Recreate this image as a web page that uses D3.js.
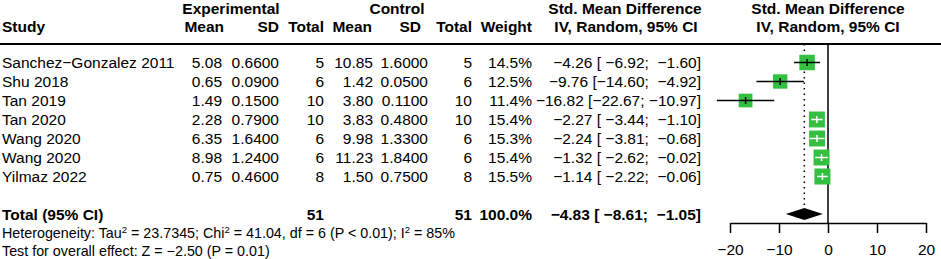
<!DOCTYPE html>
<html>
<head>
<meta charset="utf-8">
<script src="https://cdn.jsdelivr.net/npm/d3@7"></script>
<style>
  body { margin: 0; background: #fff; }
  svg { display: block; font-family: "Liberation Sans", Arial, Helvetica, sans-serif; }
</style>
</head>
<body>
<svg id="forest" width="941" height="259"></svg>
<script>
// ---- data ----
const studies = ["Sanchez\u2212Gonzalez 2011", "Shu 2018", "Tan 2019", "Tan 2020", "Wang 2020", "Wang 2020", "Yilmaz 2022"];
const expMean = [5.08, 0.65, 1.49, 2.28, 6.35, 8.98, 0.75];
const expSD = [0.66, 0.09, 0.15, 0.79, 1.64, 1.24, 0.46];
const expTotal = [5, 6, 10, 10, 6, 6, 8];
const ctrlMean = [10.85, 1.42, 3.80, 3.83, 9.98, 11.23, 1.50];
const ctrlSD = [1.60, 0.05, 0.11, 0.48, 1.33, 1.84, 0.75];
const ctrlTotal = [5, 6, 10, 10, 6, 6, 8];
const weights = [14.5, 12.5, 11.4, 15.4, 15.3, 15.4, 15.5];
const smd = [-4.26, -9.76, -16.82, -2.27, -2.24, -1.32, -1.14];
const ciLower = [-6.92, -14.60, -22.67, -3.44, -3.81, -2.62, -2.22];
const ciUpper = [-1.60, -4.92, -10.97, -1.10, -0.68, -0.02, -0.06];

const pooledSmd = -4.83;
const pooledLower = -8.61;
const pooledUpper = -1.05;
const totalExp = 51;
const totalCtrl = 51;
const totalWeight = 100.0;

const axisTicks = [-20, -10, 0, 10, 20];
const heterogeneity = { tau2: "23.7345", chi2: "41.04", df: 6, p: "P < 0.01", i2: "85%" };
const overallTest = "Test for overall effect: Z = \u22122.50 (P = 0.01)";

// ---- layout ----
const fontSize = 15.5;
const smallSize = 14.3;
const green = "#33bf40";
const svg = d3.select("#forest");

const x = d3.scaleLinear().domain([-20, 20]).range([730, 926]);
const y = d3.scaleLinear().domain([0, studies.length - 1]).range([62.5, 176.5]);
const side = d3.scaleSqrt().domain([0, 15.5]).range([0, 16]);

const f2 = d3.format(".2f");
const f4 = d3.format(".4f");
const f1 = d3.format(".1f");

const headerLineY = 44;
const totalY = 214.5;
const axisY = 223;

// meta-style CI text: values padded with plain spaces
const lowWidth = d3.max(ciLower.concat([pooledLower]), v => f2(v).length);
const upWidth = d3.max(ciUpper.concat([pooledUpper]), v => f2(v).length);
const ciText = (est, lo, up) =>
  f2(est) + " [" + f2(lo).padStart(lowWidth, " ") + "; " + f2(up).padStart(upWidth, " ") + "]";

function txt(xp, yp, s, anchor = "start", bold = false, size = fontSize) {
  return svg.append("text")
    .attr("x", xp)
    .attr("y", yp)
    .attr("dy", "0.35em")
    .attr("text-anchor", anchor)
    .attr("font-size", size)
    .attr("font-weight", bold ? "bold" : "normal")
    .attr("fill", "#000")
    .style("white-space", "pre")
    .text(s);
}

// header
const h1 = 8.7, h2 = 26.5;
txt(231, h1, "Experimental", "middle", true);
txt(397, h1, "Control", "middle", true);
txt(625, h1, "Std. Mean Difference", "middle", true);
txt(828, h1, "Std. Mean Difference", "middle", true);
txt(2, h2, "Study", "start", true);
txt(224, h2, "Mean", "end", true);
txt(279, h2, "SD", "end", true);
txt(324, h2, "Total", "end", true);
txt(372, h2, "Mean", "end", true);
txt(421, h2, "SD", "end", true);
txt(472, h2, "Total", "end", true);
txt(532, h2, "Weight", "end", true);
txt(626, h2, "IV, Random, 95% CI", "middle", true);
txt(828, h2, "IV, Random, 95% CI", "middle", true);

svg.append("line")
  .attr("x1", 0).attr("x2", 941)
  .attr("y1", headerLineY).attr("y2", headerLineY)
  .attr("stroke", "#000").attr("stroke-width", 2);

// table rows
studies.forEach((s, i) => {
  const yy = y(i);
  txt(2, yy, s);
  txt(222, yy, f2(expMean[i]), "end");
  txt(279, yy, f4(expSD[i]), "end");
  txt(324, yy, expTotal[i], "end");
  txt(373, yy, f2(ctrlMean[i]), "end");
  txt(428, yy, f4(ctrlSD[i]), "end");
  txt(472, yy, ctrlTotal[i], "end");
  txt(532, yy, f1(weights[i]) + "%", "end");
  txt(701, yy, ciText(smd[i], ciLower[i], ciUpper[i]), "end");
});

// total row
txt(2, totalY, "Total (95% CI)", "start", true);
txt(324, totalY, totalExp, "end", true);
txt(472, totalY, totalCtrl, "end", true);
txt(532, totalY, f1(totalWeight) + "%", "end", true);
txt(701, totalY, ciText(pooledSmd, pooledLower, pooledUpper), "end", true);

// heterogeneity line with superscripts
const het = txt(2, 233, "Heterogeneity: Tau", "start", false, smallSize);
const sup = () => het.append("tspan").attr("baseline-shift", "super").attr("font-size", 9.5).text("2");
sup();
het.append("tspan").text(" = " + heterogeneity.tau2 + "; Chi");
sup();
het.append("tspan").text(" = " + heterogeneity.chi2 + ", df = " + heterogeneity.df + " (" + heterogeneity.p + "); I");
sup();
het.append("tspan").text(" = " + heterogeneity.i2);

txt(2, 251, overallTest, "start", false, smallSize);

// reference lines
svg.append("line")
  .attr("x1", x(0)).attr("x2", x(0))
  .attr("y1", headerLineY).attr("y2", axisY)
  .attr("stroke", "#000").attr("stroke-width", 1.5);

svg.append("line")
  .attr("x1", x(pooledSmd)).attr("x2", x(pooledSmd))
  .attr("y1", headerLineY).attr("y2", totalY - 6)
  .attr("stroke", "#000").attr("stroke-width", 1.5)
  .attr("stroke-dasharray", "1.5,4");

// study markers
studies.forEach((s, i) => {
  const yy = y(i);
  const w = side(weights[i]);
  const cx = x(smd[i]);
  const inside = x(ciLower[i]) >= cx - w / 2 && x(ciUpper[i]) <= cx + w / 2;
  svg.append("rect")
    .attr("x", cx - w / 2).attr("y", yy - w / 2)
    .attr("width", w).attr("height", w)
    .attr("fill", green);
  const col = inside ? "#fff" : "#000";
  svg.append("line")
    .attr("x1", x(ciLower[i])).attr("x2", x(ciUpper[i]))
    .attr("y1", yy).attr("y2", yy)
    .attr("stroke", col).attr("stroke-width", 1.5);
  svg.append("line")
    .attr("x1", cx).attr("x2", cx)
    .attr("y1", yy - 3.5).attr("y2", yy + 3.5)
    .attr("stroke", col).attr("stroke-width", 1.5);
});

// pooled diamond
svg.append("path")
  .attr("d", `M${x(pooledLower)},${totalY - 0.5} L${x(pooledSmd)},${totalY - 6.5} L${x(pooledUpper)},${totalY - 0.5} L${x(pooledSmd)},${totalY + 5.5} Z`)
  .attr("fill", "#000");

// axis
const axis = svg.append("g")
  .attr("transform", `translate(0,${axisY})`)
  .call(d3.axisBottom(x).tickValues(axisTicks).tickSize(10).tickSizeOuter(0).tickPadding(11).tickFormat(d3.format("d")));
axis.select(".domain").attr("stroke-width", 1.5);
axis.selectAll(".tick line").attr("stroke-width", 1.5);
axis.selectAll("text")
  .attr("font-size", fontSize)
  .attr("font-family", "Liberation Sans, Arial, sans-serif")
  .attr("fill", "#000");
</script>
</body>
</html>
